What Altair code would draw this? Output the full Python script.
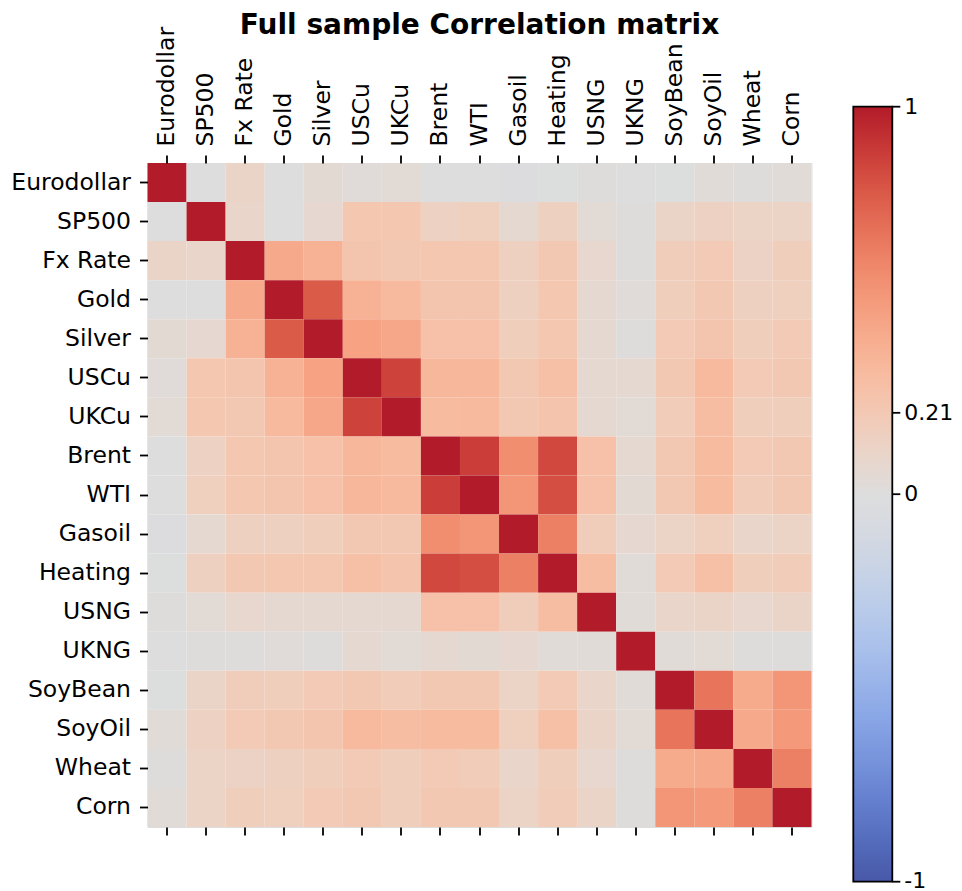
import altair as alt
import pandas as pd

labels = ["Eurodollar", "SP500", "Fx Rate", "Gold", "Silver", "USCu", "UKCu",
          "Brent", "WTI", "Gasoil", "Heating", "USNG", "UKNG", "SoyBean",
          "SoyOil", "Wheat", "Corn"]

# lower-triangle correlations (row i vs columns 0..i-1)
r_eurodollar = []
r_sp500 = [0.00]
r_fxrate = [0.11, 0.10]
r_gold = [0.00, -0.005, 0.42]
r_silver = [0.05, 0.07, 0.37, 0.77]
r_uscu = [0.02, 0.23, 0.24, 0.37, 0.46]
r_ukcu = [0.04, 0.23, 0.22, 0.32, 0.43, 0.86]
r_brent = [0.00, 0.14, 0.23, 0.24, 0.27, 0.34, 0.31]
r_wti = [0.00, 0.16, 0.23, 0.24, 0.27, 0.34, 0.32, 0.88]
r_gasoil = [-0.02, 0.06, 0.15, 0.15, 0.17, 0.22, 0.22, 0.56, 0.52]
r_heating = [-0.01, 0.15, 0.22, 0.23, 0.23, 0.28, 0.25, 0.84, 0.82, 0.62]
r_usng = [0.01, 0.04, 0.08, 0.06, 0.06, 0.06, 0.06, 0.27, 0.27, 0.18, 0.30]
r_ukng = [0.00, 0.01, 0.01, 0.02, 0.01, 0.06, 0.04, 0.06, 0.05, 0.07, 0.03, 0.03]
r_soybean = [-0.01, 0.11, 0.18, 0.17, 0.20, 0.22, 0.19, 0.22, 0.22, 0.12, 0.20, 0.10, 0.03]
r_soyoil = [0.03, 0.14, 0.20, 0.22, 0.24, 0.32, 0.30, 0.31, 0.31, 0.16, 0.28, 0.11, 0.04, 0.67]
r_wheat = [0.01, 0.12, 0.13, 0.15, 0.17, 0.20, 0.17, 0.20, 0.19, 0.10, 0.17, 0.08, 0.01, 0.41, 0.42]
r_corn = [0.03, 0.12, 0.17, 0.16, 0.20, 0.22, 0.17, 0.22, 0.22, 0.12, 0.19, 0.11, 0.01, 0.52, 0.50, 0.62]

lower = [r_eurodollar, r_sp500, r_fxrate, r_gold, r_silver, r_uscu, r_ukcu,
         r_brent, r_wti, r_gasoil, r_heating, r_usng, r_ukng, r_soybean,
         r_soyoil, r_wheat, r_corn]

colorbar_ticks = [-1, 0, 0.21, 1]

# coolwarm-like colormap stops (slightly muted, as in the picture)
cmap_colors = [
    "#4858a8", "#4f64b4", "#5770c0", "#617ccb", "#6b88d4", "#7693dc", "#819ee2",
    "#8ca8e6", "#97b2e9", "#a2bbea", "#adc3eb", "#b7caea", "#c0cfe8", "#c9d4e5",
    "#d2d8e2", "#d9dbdf", "#dddddd", "#e5d8d1", "#ecd3c5", "#f1ccb8", "#f5c4ac",
    "#f7bba0", "#f7b194", "#f7a688", "#f49a7b", "#f18d6f", "#ec7f63", "#e57058",
    "#de604d", "#d55042", "#cb3e38", "#bf2c32", "#b21b29"]
n = len(cmap_colors)
cmap_domain = [-1 + 2 * k / (n - 1) for k in range(n)]

rows = []
for i, a in enumerate(labels):
    for j, b in enumerate(labels):
        if i == j:
            v = 1.0
        elif j < i:
            v = lower[i][j]
        else:
            v = lower[j][i]
        rows.append({"row": a, "col": b, "corr": v})
df = pd.DataFrame(rows)
ticks_df = pd.DataFrame({"t": colorbar_ticks})
legend_values = [max(min(v, 0.999), -0.999) for v in colorbar_ticks]

FONT = "DejaVu Sans"
LBL = 23.5

# colorbar geometry (relative to plot origin)
CB_X = 705.8
CB_Y = -56.3
CB_LEN = 775
CB_W = 39

heat = alt.Chart(df).mark_rect().encode(
    x=alt.X("col:N", sort=labels, title=None,
            axis=alt.Axis(orient="top", labelAngle=-90, labelFontSize=LBL,
                          labelFont=FONT, labelColor="black", tickColor="black",
                          tickSize=8, tickWidth=1.8, labelPadding=9, domain=False,
                          grid=False)),
    y=alt.Y("row:N", sort=labels, title=None,
            axis=alt.Axis(orient="left", labelFontSize=LBL, labelFont=FONT,
                          labelColor="black", tickColor="black", tickSize=8,
                          tickWidth=1.8, labelPadding=9, domain=False, grid=False)),
    color=alt.Color("corr:Q",
                    scale=alt.Scale(domain=cmap_domain, range=cmap_colors,
                                    interpolate="rgb"),
                    legend=alt.Legend(orient="none", legendX=CB_X, legendY=CB_Y,
                                      direction="vertical", gradientLength=CB_LEN,
                                      gradientThickness=CB_W, values=legend_values,
                                      title=None, labelFontSize=22, labelFont=FONT,
                                      labelColor="black", labelOffset=12,
                                      gradientStrokeColor="black",
                                      gradientStrokeWidth=1.8, padding=0,
                                      labelOverlap=False,
                                      labelExpr="datum.value > 0.99 ? '1' : datum.value < -0.99 ? '-1' : format(datum.value, '~g')")),
)

bottom_ticks = alt.Chart(df).mark_rect(opacity=0).encode(
    x=alt.X("col:N", sort=labels, title=None,
            axis=alt.Axis(orient="bottom", labels=False, tickColor="black",
                          tickSize=8, tickWidth=1.8, domain=False, grid=False)),
    y=alt.Y("row:N", sort=labels, title=None, axis=None),
)

cb_ticks = alt.Chart(ticks_df).mark_rule(color="black", strokeWidth=1.8).encode(
    y=alt.Y("t:Q", scale=alt.Scale(domain=[-1, 1], range=[CB_Y + CB_LEN, CB_Y]),
            axis=None),
    x=alt.value(CB_X + CB_W),
    x2=alt.value(CB_X + CB_W + 8),
)

chart = alt.layer(heat, bottom_ticks, cb_ticks).resolve_axis(
    x="independent", y="independent"
).resolve_scale(y="independent").properties(
    width=664,
    height=664,
    title=alt.TitleParams("Full sample Correlation matrix", fontSize=28,
                          fontWeight="bold", font=FONT, color="black",
                          anchor="middle", offset=-14),
    autosize=alt.AutoSizeParams(type="none"),
    padding={"left": 139.5, "top": 155, "right": 142, "bottom": 64},
).configure_view(
    stroke="black", strokeWidth=1.8
).configure(background="white")

chart.save("out.html", embed_options={"renderer": "svg", "actions": False})
